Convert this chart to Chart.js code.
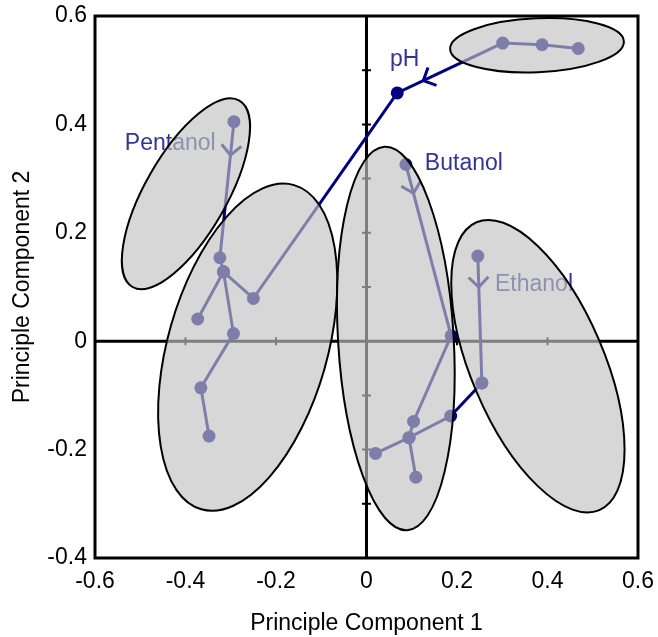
<!DOCTYPE html>
<html>
<head>
<meta charset="utf-8">
<script src="https://cdn.jsdelivr.net/npm/chart.js@4/dist/chart.umd.min.js"></script>
<style>
  html, body { margin: 0; padding: 0; background: #ffffff; }
  #wrap { width: 658px; height: 637px; }
</style>
</head>
<body>
<div id="wrap"><canvas id="c" width="658" height="637"></canvas></div>
<script>
// ---- data ----
const pc1 = [0.468, 0.388, 0.301, 0.068, -0.293, -0.324, -0.316, -0.250, -0.373, -0.294, -0.366, -0.348,
             0.087, 0.187, 0.104, 0.094, 0.020, 0.109, 0.186, 0.246, 0.255];
const pc2 = [0.540, 0.547, 0.550, 0.458, 0.405, 0.154, 0.128, 0.079, 0.041, 0.014, -0.086, -0.175,
             0.326, 0.010, -0.148, -0.178, -0.207, -0.251, -0.138, 0.157, -0.077];
// trajectories as index lists into pc1/pc2
const pathPH       = [0, 1, 2, 3, 7, 6];
const pathPentanol = [4, 5, 6, 9, 10, 11];
const pathBranchA  = [6, 8];
const pathButanol  = [12, 13, 14, 15, 18, 20];
const pathBranchB  = [16, 15, 17];
const pathEthanol  = [19, 20];
const paths = [pathPH, pathPentanol, pathBranchA, pathButanol, pathBranchB, pathEthanol];

// arrows: segment from, to, fraction along segment
const arrowFrom = [2, 4, 12, 19];
const arrowTo   = [3, 5, 13, 20];
const arrowT    = [0.753, 0.246, 0.168, 0.244];

// group ellipses: centre, end of major semi-axis (data units), minor/major ratio
const ellCx    = [-0.399, -0.2625, 0.0648, 0.3788, 0.3768];
const ellCy    = [0.272, -0.0111, 0.005, -0.0461, 0.546];
const ellEx    = [-0.281, -0.160, 0.0398, 0.2431, 0.5688];
const ellEy    = [0.444, 0.288, 0.3587, 0.2194, 0.5531];
const ellRatio = [0.38, 0.473, 0.301, 0.425, 0.31];

// trajectory labels (left/baseline, data units)
const labelText = ['pH', 'Butanol', 'Pentanol', 'Ethanol'];
const labelX    = [0.052, 0.129, -0.534, 0.284];
const labelY    = [0.507, 0.3155, 0.352, 0.0928];

// axis ticks
const xTickVals = [-0.6, -0.4, -0.2, 0, 0.2, 0.4, 0.6];
const xTickText = ['-0.6', '-0.4', '-0.2', '0', '0.2', '0.4', '0.6'];
const yTickVals = [-0.4, -0.2, 0, 0.2, 0.4, 0.6];
const yTickText = ['-0.4', '-0.2', '0', '0.2', '0.4', '0.6'];
// small tick marks on the centre cross-hair axes
const innerXTicks = [-0.4, -0.2, 0.2, 0.4];
const innerYTicks = [-0.3, -0.2, -0.1, 0.1, 0.2, 0.3, 0.4, 0.5];

// ---- styles ----
const NAVY = '#000080';
const LABEL_COLOR = '#333399';
const FONT = '"Liberation Sans", Arial, sans-serif';

const datasets = paths.map(p => ({
  data: p.map(i => ({ x: pc1[i], y: pc2[i] })),
  showLine: true,
  borderColor: NAVY,
  borderWidth: 3,
  backgroundColor: NAVY,
  pointBackgroundColor: NAVY,
  pointBorderWidth: 0,
  pointRadius: 6.5,
  pointHoverRadius: 6.5,
  tension: 0
}));

const decor = {
  id: 'decor',
  beforeDatasetsDraw(chart) {
    const { ctx, chartArea: a, scales: { x, y } } = chart;
    ctx.save();
    ctx.strokeStyle = '#000';
    ctx.lineWidth = 3;
    // frame
    ctx.strokeRect(a.left, a.top, a.right - a.left, a.bottom - a.top);
    // cross-hair
    const x0 = x.getPixelForValue(0), y0 = y.getPixelForValue(0);
    ctx.beginPath();
    ctx.moveTo(x0, a.top); ctx.lineTo(x0, a.bottom);
    ctx.moveTo(a.left, y0); ctx.lineTo(a.right, y0);
    ctx.stroke();
    ctx.lineWidth = 2;
    ctx.beginPath();
    innerYTicks.forEach(v => { const py = y.getPixelForValue(v); ctx.moveTo(x0 - 4.5, py); ctx.lineTo(x0 + 4.5, py); });
    innerXTicks.forEach(v => { const px = x.getPixelForValue(v); ctx.moveTo(px, y0 - 4); ctx.lineTo(px, y0 + 4); });
    ctx.stroke();
    // labels
    ctx.fillStyle = LABEL_COLOR;
    ctx.font = '23px ' + FONT;
    ctx.textAlign = 'left';
    ctx.textBaseline = 'alphabetic';
    labelText.forEach((t, i) => ctx.fillText(t, x.getPixelForValue(labelX[i]), y.getPixelForValue(labelY[i])));
    ctx.restore();
  },
  afterDatasetsDraw(chart) {
    const { ctx, scales: { x, y } } = chart;
    ctx.save();
    // arrows (open chevrons)
    ctx.strokeStyle = NAVY;
    ctx.lineWidth = 3;
    ctx.lineCap = 'butt';
    arrowFrom.forEach((f, i) => {
      const ax = x.getPixelForValue(pc1[f]), ay = y.getPixelForValue(pc2[f]);
      const bx = x.getPixelForValue(pc1[arrowTo[i]]), by = y.getPixelForValue(pc2[arrowTo[i]]);
      const t = arrowT[i];
      const vx = ax + (bx - ax) * t, vy = ay + (by - ay) * t;
      const ang = Math.atan2(ay - by, ax - bx); // pointing back
      const L = 14, h = Math.PI / 4;
      ctx.beginPath();
      ctx.moveTo(vx + L * Math.cos(ang - h), vy + L * Math.sin(ang - h));
      ctx.lineTo(vx, vy);
      ctx.lineTo(vx + L * Math.cos(ang + h), vy + L * Math.sin(ang + h));
      ctx.stroke();
    });
    // ellipses
    ellCx.forEach((cx, i) => {
      const px = x.getPixelForValue(cx), py = y.getPixelForValue(ellCy[i]);
      const ex = x.getPixelForValue(ellEx[i]), ey = y.getPixelForValue(ellEy[i]);
      const ra = Math.hypot(ex - px, ey - py);
      const rot = Math.atan2(ey - py, ex - px);
      ctx.beginPath();
      ctx.ellipse(px, py, ra, ra * ellRatio[i], rot, 0, Math.PI * 2);
      ctx.fillStyle = 'rgba(193,193,193,0.65)';
      ctx.fill();
      ctx.strokeStyle = '#000';
      ctx.lineWidth = 2;
      ctx.stroke();
    });
    ctx.restore();
  }
};

new Chart(document.getElementById('c'), {
  type: 'scatter',
  data: { datasets },
  options: {
    responsive: false,
    animation: false,
    devicePixelRatio: 1,
    layout: { padding: { top: 16, right: 20, left: 0, bottom: 0 } },
    plugins: { legend: { display: false }, tooltip: { enabled: false } },
    scales: {
      x: {
        type: 'linear', min: -0.6, max: 0.6,
        afterBuildTicks: s => { s.ticks = xTickVals.map(v => ({ value: v })); },
        afterFit: s => { s.height = 79; s.paddingLeft = 0; s.paddingRight = 0; },
        grid: { display: false, drawTicks: false },
        border: { display: false },
        ticks: { padding: 10, color: '#000', font: { family: FONT, size: 23 },
                 callback: (v, i) => xTickText[i], maxRotation: 0, autoSkip: false },
        title: { display: true, text: 'Principle Component 1', color: '#000',
                 font: { family: FONT, size: 23 }, padding: { top: 0, bottom: 0 } }
      },
      y: {
        type: 'linear', min: -0.4, max: 0.6,
        afterBuildTicks: s => { s.ticks = yTickVals.map(v => ({ value: v })); },
        afterFit: s => { s.width = 95; s.paddingTop = 0; s.paddingBottom = 0; },
        grid: { display: false, drawTicks: false },
        border: { display: false },
        ticks: { padding: 8, color: '#000', font: { family: FONT, size: 23 },
                 callback: (v, i) => yTickText[i], autoSkip: false },
        title: { display: true, text: 'Principle Component 2', color: '#000',
                 font: { family: FONT, size: 23 }, padding: { top: 9, bottom: 0 } }
      }
    }
  },
  plugins: [decor]
});
</script>
</body>
</html>
